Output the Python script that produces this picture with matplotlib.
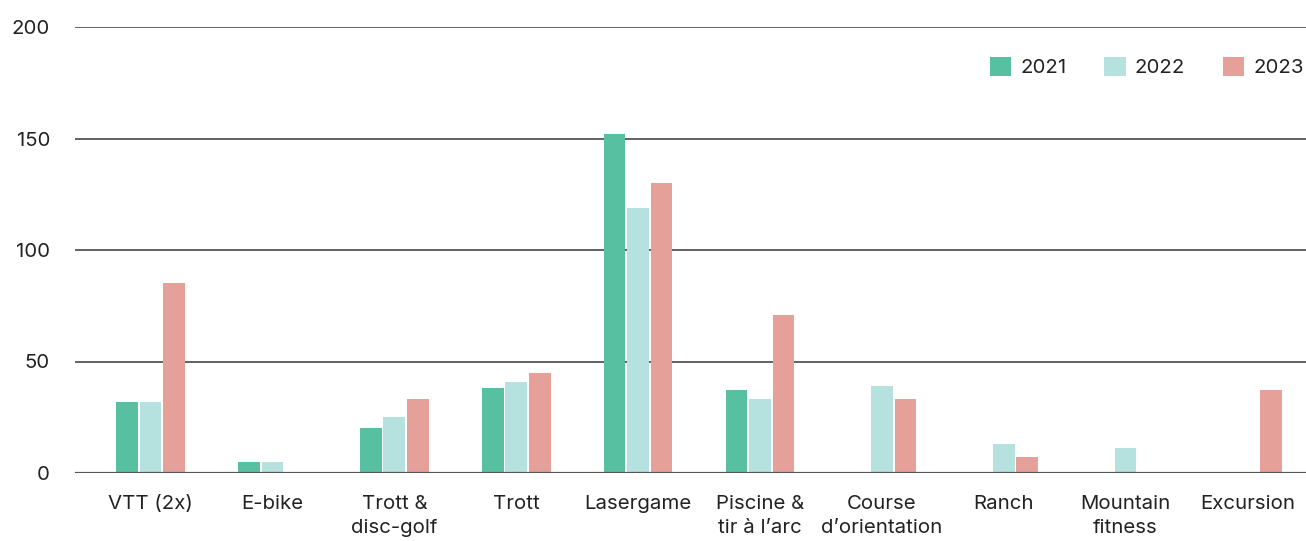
import matplotlib
matplotlib.use("Agg")
import matplotlib.pyplot as plt
import numpy as np

categories = ["VTT (2x)", "E-bike", "Trott &\ndisc-golf", "Trott", "Lasergame",
              "Piscine &\ntir à l’arc", "Course\nd’orientation", "Ranch",
              "Mountain\nfitness", "Excursion"]
years = ["2021", "2022", "2023"]
v2021 = [32, 5, 20, 38, 152, 37, 0, 0, 0, 0]
v2022 = [32, 5, 25, 41, 119, 33, 39, 13, 11, 0]
v2023 = [85, 0, 33, 45, 130, 71, 33, 7, 0, 37]
colors = ["#57C0A1", "#B5E2DF", "#E5A09A"]
yticks = [0, 50, 100, 150, 200]

plt.rcParams['font.family'] = ['Inter', 'DejaVu Sans']
fig = plt.figure(figsize=(13.06, 5.41), dpi=100)
ax = fig.add_axes([75/1306, 1-473/541, 1-75/1306, (473-27)/541])

x = np.arange(len(categories))
w = 0.178
step = 0.193
for i, (vals, c, lab) in enumerate(zip([v2021, v2022, v2023], colors, years)):
    ax.bar(x + (i-1)*step, vals, width=w, color=c, label=lab, zorder=3)

ax.set_xlim(-0.62, 9.48)
ax.set_ylim(0, 200)
ax.set_yticks(yticks)
ax.set_yticklabels([str(t) for t in yticks])
ax.set_xticks(x)
ax.set_xticklabels(categories, linespacing=1.4)
for s in ax.spines.values():
    s.set_visible(False)
ax.grid(axis='y', color='#555555', linewidth=1.3, zorder=0)
ax.tick_params(axis='y', length=0, pad=18, labelsize=14.7, labelcolor='#222222')
ax.tick_params(axis='x', length=0, pad=16, labelsize=14.7, labelcolor='#222222')
ax.axhline(0, color='#555555', linewidth=1.6, zorder=4)

leg = ax.legend(loc='center right', bbox_to_anchor=(1.005, 0.91), ncol=3, frameon=False,
                fontsize=14.7, handlelength=1.05, handleheight=1.05, handletextpad=0.45,
                columnspacing=1.85, labelcolor='#222222', borderaxespad=0.0)

fig.savefig("out.png", dpi=100)
